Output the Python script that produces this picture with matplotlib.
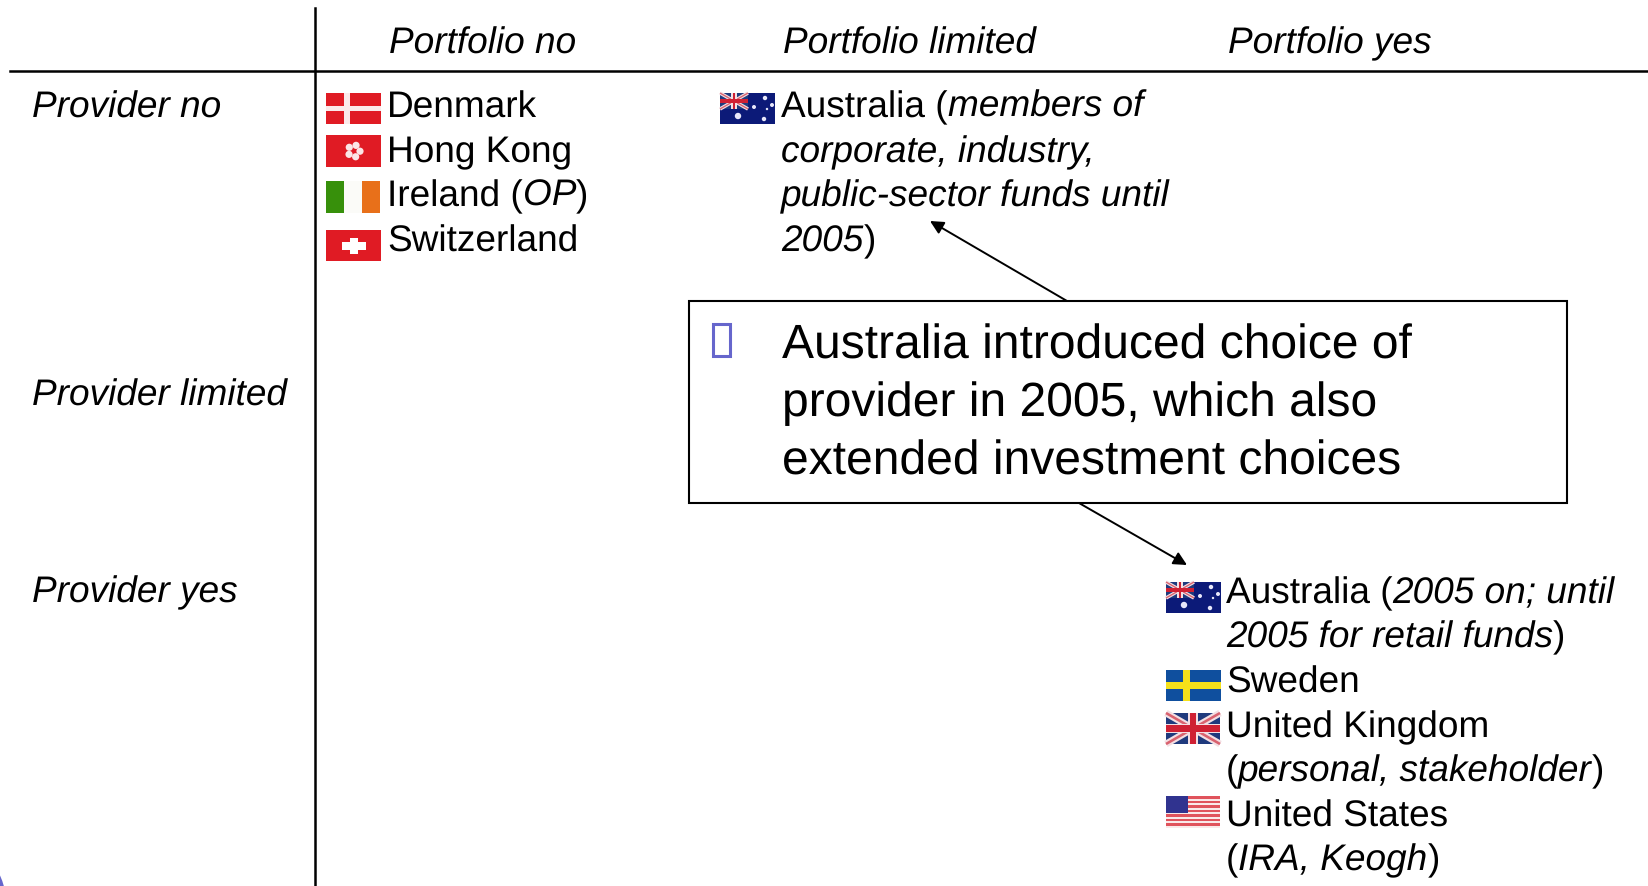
import matplotlib
matplotlib.use("Agg")
import matplotlib.pyplot as plt
from matplotlib.patches import Rectangle, Circle
import numpy as np

plt.rcParams['font.family'] = ['Liberation Sans', 'DejaVu Sans']
plt.rcParams['text.hinting'] = 'no_hinting'
plt.rcParams['text.hinting_factor'] = 1

W, H = 1648, 886
FS = 26.95
FS_BOX = 34.35

# (x, baseline y, text)
col_heads = [(389, 53.6, "Portfolio no"), (783, 53.6, "Portfolio limited"), (1228, 53.2, "Portfolio yes")]
row_heads = [(32, 117.6, "Provider no"), (32, 405.6, "Provider limited"), (32, 602.6, "Provider yes")]

# runs are (text, italic)
cells = [
    (387, 117.6, [("Denmark", False)]),
    (387, 162.4, [("Hong Kong", False)]),
    (387, 206, [("Ireland (", False), ("OP", True), (")", False)]),
    (387, 251.6, [("Switzerland", False)]),
    (781, 117, [("Australia (", False), ("members of", True)]),
    (781, 162.4, [("corporate, industry,", True)]),
    (781, 206, [("public-sector funds until", True)]),
    (781, 251.6, [("2005", True), (")", False)]),
    (1226, 603, [("Australia (", False), ("2005 on; until", True)]),
    (1226, 647.4, [("2005 for retail funds", True), (")", False)]),
    (1226, 692.6, [("Sweden", False)]),
    (1226, 737, [("United Kingdom", False)]),
    (1226, 781, [("(", False), ("personal, stakeholder", True), (")", False)]),
    (1226, 826.6, [("United States", False)]),
    (1226, 870.6, [("(", False), ("IRA, Keogh", True), (")", False)]),
]

box_lines = ["Australia introduced choice of", "provider in 2005, which also", "extended investment choices"]
box_ys = [358.6, 416, 474.6]

flags = [
    ("dk", 326, 93), ("hk", 326, 135), ("ie", 326, 181), ("ch", 326, 230),
    ("au", 720, 93), ("au", 1166, 582), ("se", 1166, 670), ("uk", 1166, 713), ("us", 1166, 796),
]
FW, FH = 55, 31

fig = plt.figure(figsize=(W / 100, H / 100), dpi=100)
ax = fig.add_axes([0, 0, 1, 1])
ax.set_xlim(0, W)
ax.set_ylim(H, 0)
ax.axis("off")


def rect(x, y, w, h, c, z=3):
    ax.add_patch(Rectangle((x, y), w, h, fc=c, ec="none", zorder=z))


def union_jack(x, y, w, h):
    rect(x, y, w, h, "#1f3a7d")
    for a, b in [((x, y), (x + w, y + h)), ((x, y + h), (x + w, y))]:
        ax.plot([a[0], b[0]], [a[1], b[1]], color="#f3dfe3", lw=h * 0.16, solid_capstyle="butt", zorder=4)
        ax.plot([a[0], b[0]], [a[1], b[1]], color="#d9626f", lw=h * 0.06, solid_capstyle="butt", zorder=4)
    rect(x + w * 0.40, y, w * 0.20, h, "#f3dfe3", 4)
    rect(x, y + h * 0.36, w, h * 0.28, "#f3dfe3", 4)
    rect(x + w * 0.45, y, w * 0.10, h, "#cf2033", 5)
    rect(x, y + h * 0.40, w, h * 0.20, "#cf2033", 5)


def draw_flag(kind, x, y):
    if kind == "dk":
        rect(x, y, FW, FH, "#e01b24")
        rect(x + 18, y, 6, FH, "#fbeaea", 4)
        rect(x, y + 13, FW, 5, "#fbeaea", 4)
    elif kind == "hk":
        rect(x, y, FW, FH + 1, "#e01b24")
        for ang in np.arange(0, 360, 72):
            cx = x + 28 + 6 * np.sin(np.radians(ang + 20))
            cy = y + 16 - 6 * np.cos(np.radians(ang + 20))
            ax.add_patch(Circle((cx, cy), 3.6, fc="#fbe6e6", ec="none", zorder=4))
    elif kind == "ie":
        rect(x, y, 18, FH + 1, "#37900b")
        rect(x + 18, y, 18, FH + 1, "#fbfbf8")
        rect(x + 36, y, 18, FH + 1, "#e8701a")
    elif kind == "ch":
        rect(x, y, FW, FH, "#e01b24")
        rect(x + 24, y + 8, 8, 16, "white", 4)
        rect(x + 16, y + 12, 24, 8, "white", 4)
    elif kind == "se":
        rect(x, y, FW, FH, "#0f4f9e")
        rect(x + 17, y, 7, FH, "#f5e11a", 4)
        rect(x, y + 12, FW, 7, "#f5e11a", 4)
    elif kind == "uk":
        union_jack(x, y, FW - 1, FH)
    elif kind == "au":
        rect(x, y, FW, FH, "#0c1a78")
        union_jack(x, y, 28, 16)
        for sx, sy, r in [(18, 23, 3.2), (45, 5, 2.2), (34, 14, 2.0), (52, 12, 2.0), (44, 26, 2.2), (47, 16, 1.2)]:
            ax.add_patch(Circle((x + sx, y + sy), r, fc="#e8e8fa", ec="none", zorder=4))
    elif kind == "us":
        for i in range(7):
            rect(x, y + i * 4.5, FW - 1, 2.6, "#e0535c")
            rect(x, y + i * 4.5 + 2.6, FW - 1, 1.9, "#f9e9e9")
        rect(x, y, 22, 17, "#30338f", 4)


def put_runs(x, y, runs, fs):
    r = fig.canvas.get_renderer()
    for s, it in runs:
        t = ax.text(x, y, s, fontsize=fs, style="italic" if it else "normal",
                    color="black", va="baseline", ha="left", zorder=6)
        x += t.get_window_extent(r).width


# rules
ax.plot([315, 315], [8, H], color="black", lw=1.8, zorder=2)
ax.plot([10, W], [71, 71], color="black", lw=1.8, zorder=2)

# corner of the slide decoration
ax.add_patch(Circle((-107, 920), 116, fc="#6666cc", ec="none", zorder=1))

for x, y, s in col_heads + row_heads:
    ax.text(x, y, s, fontsize=FS, style="italic", va="baseline", ha="left")

for x, y, runs in cells:
    put_runs(x, y, runs, FS)

for kind, x, y in flags:
    draw_flag(kind, x, y)

# callout
ax.add_patch(Rectangle((689, 301), 878, 202, fc="white", ec="black", lw=1.5, zorder=5))
ax.add_patch(Rectangle((713.5, 324), 17, 32, fc="none", ec="#6666cc", lw=2.2, zorder=6))
for s, y in zip(box_lines, box_ys):
    ax.text(782, y, s, fontsize=FS_BOX, va="baseline", ha="left", zorder=6)

arrow = dict(arrowstyle="-|>", color="black", lw=1.4, mutation_scale=20, shrinkA=0, shrinkB=0)
ax.annotate("", xy=(930, 221), xytext=(1067, 301), arrowprops=arrow, zorder=4)
ax.annotate("", xy=(1187, 565), xytext=(1079, 503), arrowprops=arrow, zorder=4)

fig.savefig("out.png", dpi=100)
